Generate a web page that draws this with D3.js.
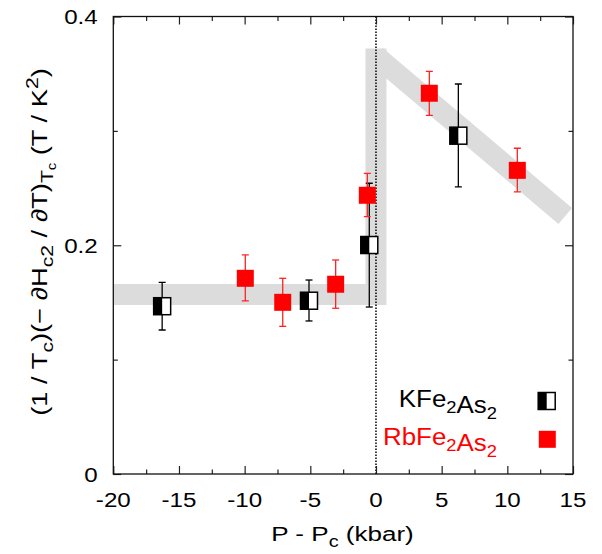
<!DOCTYPE html>
<html><head><meta charset="utf-8">
<script src="https://cdn.jsdelivr.net/npm/d3@7"></script>
<style>body{margin:0;background:#fff} text{font-family:"Liberation Sans",Arial,Helvetica,sans-serif}</style>
</head><body><svg id="c" width="602" height="554"></svg>
<script>
// ---- data ----
const xTicks = [-20, -15, -10, -5, 0, 5, 10, 15];
const xTickLabels = ["-20", "-15", "-10", "-5", "0", "5", "10", "15"];
const xMinor = [-17.5, -12.5, -7.5, -2.5, 2.5, 7.5, 12.5];
const yTicks = [0, 0.2, 0.4];
const yTickLabels = ["0", "0.2", "0.4"];
const yMinor = [0.1, 0.3];

// KFe2As2
const kP  = [-16.28, -5.1, -0.51, 6.27];
const kV  = [0.1467, 0.1515, 0.2002, 0.2958];
const kLo = [0.1259, 0.1338, 0.1460, 0.2510];
const kHi = [0.1676, 0.1696, 0.2542, 0.3410];
// RbFe2As2
const rP  = [-9.95, -7.1, -3.07, -0.66, 4.06, 10.76];
const rV  = [0.1711, 0.1501, 0.1659, 0.2437, 0.3329, 0.2655];
const rLo = [0.1513, 0.1291, 0.1449, 0.2250, 0.3136, 0.2466];
const rHi = [0.1915, 0.1711, 0.1871, 0.2629, 0.3520, 0.2848];

// grey guide band
const guideLowP  = [-20, 0, 0];
const guideLowV  = [0.1569, 0.1569, 0.372];
const guideHighP = [0, 14.41];
const guideHighV = [0.3655, 0.2256];

const seriesNames = ["KFe2As2", "RbFe2As2"];

// ---- layout ----
const svg = d3.select("#c");
const L = 113.3, R = 573, T = 16.5, B = 474;
const x = d3.scaleLinear().domain([-20, 15]).range([L, R]);
const y = d3.scaleLinear().domain([0, 0.4]).range([B, T]);

svg.append("clipPath").attr("id", "pc").append("rect")
  .attr("x", L).attr("y", T).attr("width", R - L).attr("height", B - T);
const plot = svg.append("g").attr("clip-path", "url(#pc)");

// band
const line = d3.line().x(d => x(d[0])).y(d => y(d[1]));
plot.append("path").attr("d", line(guideLowP.map((p, i) => [p, guideLowV[i]])))
  .attr("fill", "none").attr("stroke", "#dcdcdc").attr("stroke-width", 21)
  .attr("stroke-linejoin", "miter").attr("stroke-linecap", "butt");
plot.append("path").attr("d", line(guideHighP.map((p, i) => [p, guideHighV[i]])))
  .attr("fill", "none").attr("stroke", "#dcdcdc").attr("stroke-width", 21)
  .attr("stroke-linecap", "butt");

// dotted zero line
plot.append("line").attr("x1", x(0)).attr("x2", x(0)).attr("y1", T).attr("y2", B)
  .attr("stroke", "#000").attr("stroke-width", 1.5).attr("stroke-dasharray", "1.5,1.5");

// axes (inward ticks on all sides)
function axisG(gen, tx, ty) {
  const g = svg.append("g").attr("transform", `translate(${tx},${ty})`).call(gen);
  g.select(".domain").remove();
  g.selectAll("text").remove();
  g.selectAll("line").attr("stroke", "#222").attr("stroke-width", 1.2);
  return g;
}
axisG(d3.axisBottom(x).tickValues(xTicks).tickSize(-8), 0, B);
axisG(d3.axisBottom(x).tickValues(xMinor).tickSize(-4.5), 0, B);
axisG(d3.axisTop(x).tickValues(xTicks).tickSize(-8), 0, T);
axisG(d3.axisTop(x).tickValues(xMinor).tickSize(-4.5), 0, T);
axisG(d3.axisLeft(y).tickValues(yTicks).tickSize(-8), L, 0);
axisG(d3.axisLeft(y).tickValues(yMinor).tickSize(-4.5), L, 0);
axisG(d3.axisRight(y).tickValues(yTicks).tickSize(-8), R, 0);
axisG(d3.axisRight(y).tickValues(yMinor).tickSize(-4.5), R, 0);

svg.append("rect").attr("x", L).attr("y", T).attr("width", R - L).attr("height", B - T)
  .attr("fill", "none").attr("stroke", "#111").attr("stroke-width", 1.3);

// text helper with horizontal stretch
function txt(px, py, anchor, size, color, rot, sx) {
  return svg.append("text")
    .attr("transform", `translate(${px},${py})` + (rot ? ` rotate(${rot})` : "") + ` scale(${sx || 1.15},1)`)
    .attr("text-anchor", anchor).attr("font-size", size).attr("fill", color || "#000");
}
xTicks.forEach((t, i) => txt(x(t), 507, "middle", 21).text(xTickLabels[i]));
yTicks.forEach((t, i) => txt(97.7, y(t) + 7.5, "end", 21).text(yTickLabels[i]));

// x title
{
  const t = txt(342.5, 540.5, "middle", 21, "#000", 0, 1.24);
  t.append("tspan").text("P - P");
  t.append("tspan").attr("font-size", 16).attr("dy", 6).text("c");
  t.append("tspan").attr("dy", -6).text(" (kbar)");
}
// y title
{
  const t = txt(46.7, 242, "middle", 22, "#000", -90, 1.24);
  t.append("tspan").text("(1 / T");
  t.append("tspan").attr("font-size", 17).attr("dy", 6).text("c");
  t.append("tspan").attr("dy", -6).text(")(\u2212 \u2202H");
  t.append("tspan").attr("font-size", 17).attr("dy", 6).text("c2");
  t.append("tspan").attr("dy", -6).text(" / \u2202T)");
  t.append("tspan").attr("font-size", 17).attr("dy", 6).text("T");
  t.append("tspan").attr("font-size", 12).attr("dy", 3).text("c");
  t.append("tspan").attr("dy", -9).text(" (T / K");
  t.append("tspan").attr("font-size", 17).attr("dy", -9).text("2");
  t.append("tspan").attr("dy", 9).text(")");
}

// error bars
function errorBars(P, Lo, Hi, color, w) {
  const g = plot.append("g").attr("stroke", color).attr("stroke-width", w);
  P.forEach((p, i) => {
    g.append("line").attr("x1", x(p)).attr("x2", x(p)).attr("y1", y(Lo[i])).attr("y2", y(Hi[i]));
    [Lo[i], Hi[i]].forEach(v => g.append("line").attr("x1", x(p) - 3.5).attr("x2", x(p) + 3.5)
      .attr("y1", y(v)).attr("y2", y(v)));
  });
}
errorBars(kP, kLo, kHi, "#000", 1.3);
errorBars(rP, rLo, rHi, "#f22", 1.3);

const S = 17;
function halfSquare(g, cx, cy) {
  g.append("rect").attr("x", cx - S / 2).attr("y", cy - S / 2).attr("width", S).attr("height", S)
    .attr("fill", "#fff").attr("stroke", "#000").attr("stroke-width", 1.5);
  g.append("rect").attr("x", cx - S / 2).attr("y", cy - S / 2).attr("width", S / 2).attr("height", S)
    .attr("fill", "#000");
}
function redSquare(g, cx, cy) {
  g.append("rect").attr("x", cx - S / 2).attr("y", cy - S / 2).attr("width", S).attr("height", S)
    .attr("fill", "#ff0000");
}
kP.forEach((p, i) => halfSquare(plot, x(p), y(kV[i])));
rP.forEach((p, i) => redSquare(plot, x(p), y(rV[i])));

// legend
function chem(t, name) {
  name.split(/(\d)/).filter(s => s).forEach(s => {
    if (/\d/.test(s)) {
      t.append("tspan").attr("font-size", 17).attr("dy", 6).text(s);
      t.append("tspan").attr("dy", -6).text("");
    } else t.append("tspan").text(s);
  });
}
chem(txt(497, 406.7, "end", 24, "#000", 0, 1.08), seriesNames[0]);
chem(txt(497, 445, "end", 24, "#ff0000", 0, 1.08), seriesNames[1]);
halfSquare(svg, 546.7, 401);
redSquare(svg, 547.3, 439.3);
</script></body></html>
